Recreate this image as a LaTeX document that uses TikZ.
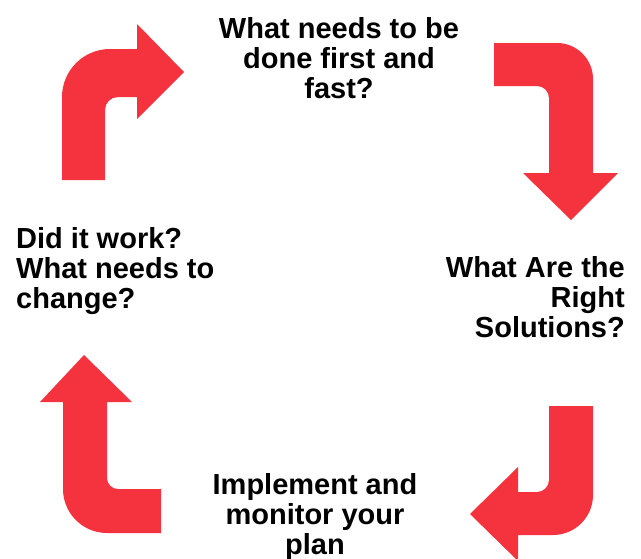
\documentclass[tikz,border=0pt]{standalone}
\usepackage{fontspec}
\setmainfont{Liberation Sans}
\definecolor{cyclered}{RGB}{245,51,63}
\begin{document}
\begin{tikzpicture}[x=1pt,y=-1pt,
  bentarrow/.style={fill=cyclered,draw=none},
  steptext/.style={font=\bfseries\fontsize{29}{30}\selectfont,inner sep=0pt,anchor=base}]
\useasboundingbox (0,0) rectangle (641,558);

% top-left: up, then turning right
\path[bentarrow] (62,180) -- (62,97)
  .. controls (62,70.5) and (83.5,49) .. (110,49)
  -- (137,49) -- (137,24) -- (184,72) -- (137,119) -- (137,97) -- (118,97)
  .. controls (110.8,97) and (105,102.8) .. (105,110)
  -- (105,180) -- cycle;

% top-right: right, then turning down
\path[bentarrow] (494,43) -- (557,43)
  .. controls (576.9,43) and (593,59.1) .. (593,79)
  -- (593,173) -- (618,173) -- (571,220) -- (523,173) -- (549,173) -- (549,98)
  .. controls (549,91.4) and (543.6,86) .. (537,86)
  -- (494,86) -- cycle;

% bottom-right: down, then turning left
\path[bentarrow] (549,406) -- (593,406) -- (593,495)
  .. controls (593,517.1) and (575.1,535) .. (553,535)
  -- (518,535) -- (518,561) -- (470,514) -- (518,467) -- (518,492) -- (537,492)
  .. controls (543.6,492) and (549,486.6) .. (549,480)
  -- cycle;

% bottom-left: left, then turning up
\path[bentarrow] (84,355) -- (132,402) -- (107,402) -- (107,478)
  .. controls (107,484.1) and (111.9,489) .. (118,489)
  -- (161,489) -- (161,533) -- (107,533)
  .. controls (82.7,533) and (63,513.3) .. (63,489)
  -- (63,402) -- (40,402) -- cycle;

% step labels (base anchor sits on the last line)
\node[steptext,align=center] (first) at (339,98)
  {What needs to be\\done first and\\fast?};
\node[steptext,align=right,anchor=base east] (solutions) at (625,337)
  {What Are the\\Right\\Solutions?};
\node[steptext,align=center] (implement) at (315,554)
  {Implement and\\monitor your\\plan};
\node[steptext,align=left,anchor=base west] (review) at (16,308)
  {Did it work?\\What needs to\\change?};
\end{tikzpicture}
\end{document}
